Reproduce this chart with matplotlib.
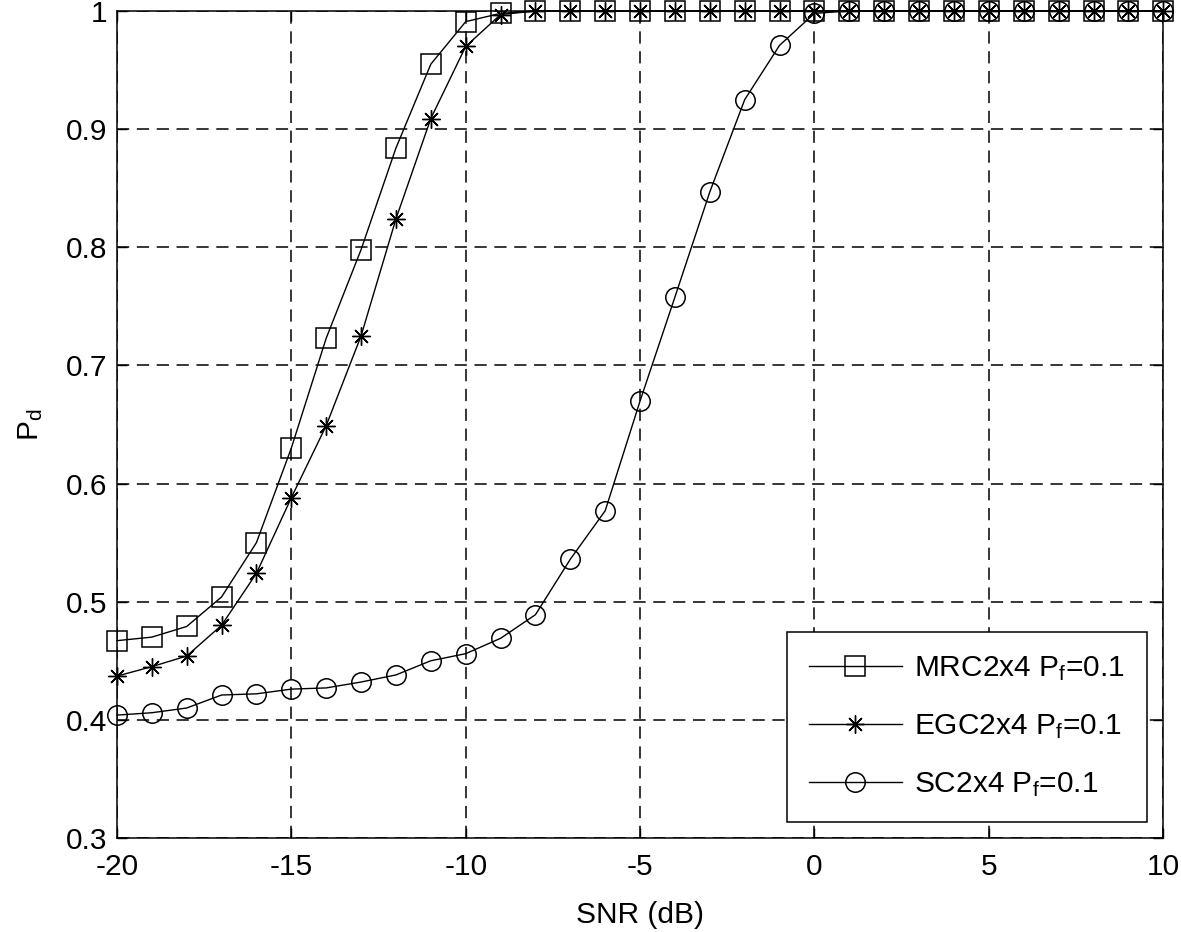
import matplotlib
matplotlib.use("Agg")
import matplotlib.pyplot as plt

plt.rcParams['font.family'] = ['Liberation Sans', 'DejaVu Sans']
plt.rcParams['mathtext.fontset'] = 'custom'
plt.rcParams['mathtext.rm'] = 'Liberation Sans'
plt.rcParams['mathtext.it'] = 'Liberation Sans'
plt.rcParams['mathtext.default'] = 'regular'

snr = list(range(-20, 11))

mrc = [0.467, 0.470, 0.479, 0.504, 0.550, 0.630, 0.723, 0.798, 0.884, 0.955,
       0.991, 0.998] + [1.0] * 19
egc = [0.437, 0.445, 0.454, 0.480, 0.524, 0.588, 0.649, 0.725, 0.824, 0.909,
       0.970, 0.997] + [1.0] * 19
sc = [0.404, 0.406, 0.410, 0.421, 0.422, 0.426, 0.427, 0.432, 0.438, 0.450,
      0.456, 0.469, 0.489, 0.536, 0.577, 0.670, 0.758, 0.847, 0.925, 0.971,
      0.998] + [1.0] * 10

labels = ['MRC2x4 P$_f$=0.1', 'EGC2x4 P$_f$=0.1', 'SC2x4 P$_f$=0.1']
xticks = [-20, -15, -10, -5, 0, 5, 10]
yticks = [0.3, 0.4, 0.5, 0.6, 0.7, 0.8, 0.9, 1.0]
yticklabels = ['0.3', '0.4', '0.5', '0.6', '0.7', '0.8', '0.9', '1']

FS = 21.5

fig = plt.figure(figsize=(11.81, 9.32), dpi=100)
ax = fig.add_axes([0.099, 0.1009, 0.886, 0.8873])

ax.plot(snr, mrc, color='black', lw=1.0, marker='s', ms=14, mfc='none',
        mec='black', mew=1.1, label=labels[0], clip_on=False, zorder=3)
ax.plot(snr, egc, color='black', lw=1.0, marker=(8, 2, 0), ms=13, mec='black',
        mew=1.0, label=labels[1], clip_on=False, zorder=3)
ax.plot(snr, sc, color='black', lw=1.0, marker='o', ms=14, mfc='none',
        mec='black', mew=1.1, label=labels[2], clip_on=False, zorder=3)

ax.set_xlim(-20, 10)
ax.set_ylim(0.3, 1.0)
ax.set_xticks(xticks)
ax.set_xticklabels([str(t) for t in xticks])
ax.set_yticks(yticks)
ax.set_yticklabels(yticklabels)
ax.grid(True, color='black', linestyle=(0, (8, 5)), linewidth=1.1)
ax.set_axisbelow(True)
ax.tick_params(direction='in', length=7, width=1.0, top=True, right=True,
               labelsize=FS)
ax.tick_params(axis='x', pad=11)
ax.tick_params(axis='y', pad=7)
for s in ax.spines.values():
    s.set_linewidth(1.1)

ax.set_xlabel('SNR (dB)', fontsize=FS, labelpad=14)
ax.set_ylabel('P$_d$', fontsize=FS, labelpad=15)

leg = ax.legend(loc='lower right', fontsize=FS, handlelength=3.1,
                handletextpad=0.4, borderpad=0.75, labelspacing=0.98,
                fancybox=False, framealpha=1, edgecolor='black',
                borderaxespad=0.55)
leg.get_frame().set_linewidth(1.1)

fig.savefig('out.png', dpi=100)
